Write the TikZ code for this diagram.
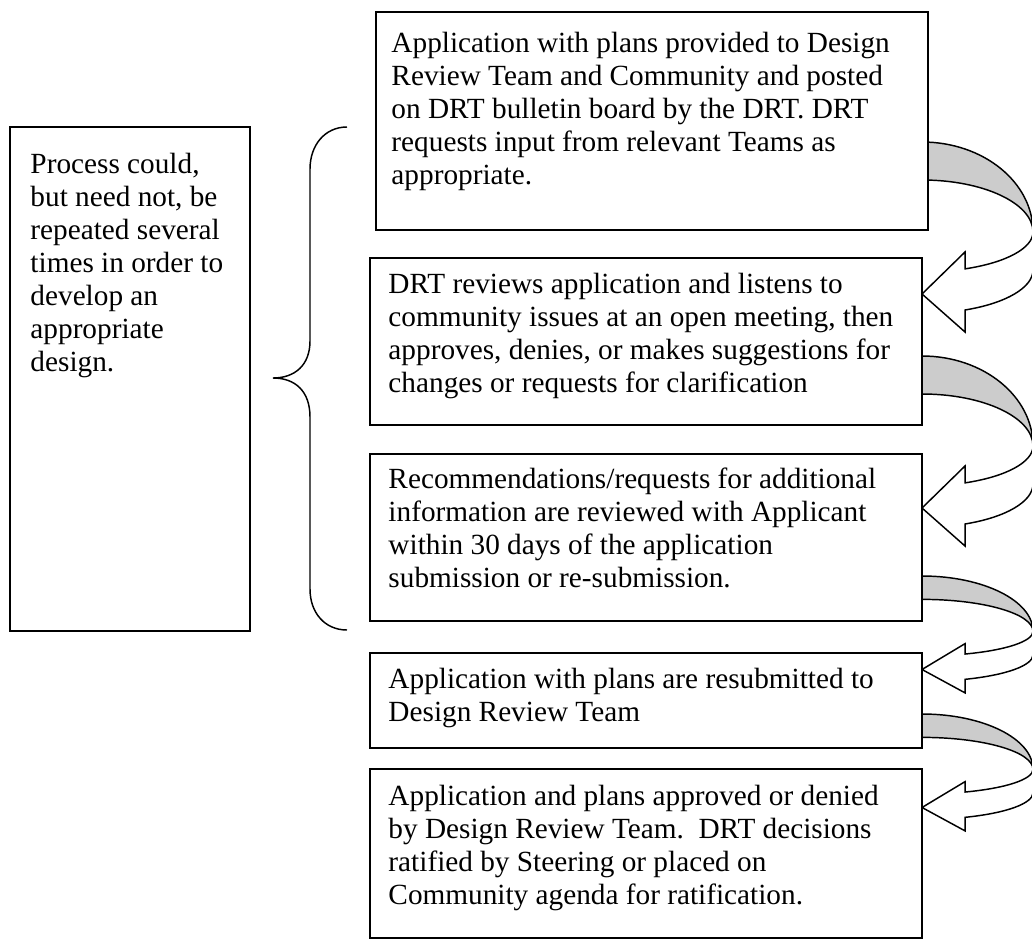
\documentclass[tikz,border=0pt]{standalone}
\usepackage{fontspec}
\setmainfont{Liberation Serif}
\usetikzlibrary{backgrounds}
\newdimen\px \px=0.41pt

\tikzset{
  stepbox/.style={draw,fill=white,line width=0.8pt,anchor=north west,inner sep=0pt,outer sep=0pt},
  steptext/.style={anchor=north west,inner sep=0pt,align=left,font=\fontsize{12pt}{13.5pt}\selectfont},
  curvearrow/.pic={
    % back of the ribbon
    \filldraw[fill=black!20,line width=0.6pt]
      (0,0) arc[start angle=-90,end angle=0,x radius=111,y radius=90]
      arc[start angle=0,end angle=-90,x radius=111,y radius=52] -- cycle;
    % front of the ribbon with the head
    \filldraw[fill=white,line width=0.6pt]
      (111,90) arc[start angle=0,end angle=67.2,x radius=111,y radius=40]
      -- (43,110) -- (0,152) -- (43,190) -- (43,168)
      arc[start angle=67.2,end angle=0,x radius=111,y radius=43.4] -- cycle;
  }
}

\begin{document}
\begin{tikzpicture}[x=0.41pt,y=-0.41pt]
  \useasboundingbox (0,0) rectangle (1032,942);

  \node[stepbox,minimum width=240\px,minimum height=504\px] (lbox) at (10,127) {};
  \node[stepbox,minimum width=552\px,minimum height=218\px] (b1) at (376,12) {};
  \node[stepbox,minimum width=552\px,minimum height=167\px] (b2) at (370,258) {};
  \node[stepbox,minimum width=552\px,minimum height=167\px] (b3) at (370,454) {};
  \node[stepbox,minimum width=552\px,minimum height=95\px] (b4) at (370,653) {};
  \node[stepbox,minimum width=552\px,minimum height=169\px] (b5) at (370,769) {};

  \node[steptext] (tl) at ([shift={(20,23)}]lbox.north west)
    {\strut Process could,\\ but need not, be\\ repeated several\\ times in order to\\ develop an\\ appropriate\\ design.};
  \node[steptext] (t1) at ([shift={(15,17)}]b1.north west)
    {\strut Application with plans provided to Design\\ Review Team and Community and posted\\ on DRT bulletin board by the DRT. DRT\\ requests input from relevant Teams as\\ appropriate.};
  \node[steptext] (t2) at ([shift={(18,12)}]b2.north west)
    {\strut DRT reviews application and listens to\\ community issues at an open meeting, then\\ approves, denies, or makes suggestions for\\ changes or requests for clarification};
  \node[steptext] (t3) at ([shift={(18,11)}]b3.north west)
    {\strut Recommendations/requests for additional\\ information are reviewed with Applicant\\ within 30 days of the application\\ submission or re-submission.};
  \node[steptext] (t4) at ([shift={(18,12)}]b4.north west)
    {\strut Application with plans are resubmitted to\\ Design Review Team};
  \node[steptext] (t5) at ([shift={(18,13)}]b5.north west)
    {\strut Application and plans approved or denied\\ by Design Review Team.\ \ DRT decisions\\ ratified by Steering or placed on\\ Community agenda for ratification.};

  % the brace
  \draw[line width=0.6pt] (347,127) .. controls (325,127) and (310,145) .. (310,169)
    -- (310,341) .. controls (310,365) and (295,378) .. (273,378)
    .. controls (295,378) and (310,391) .. (310,417)
    -- (310,589) .. controls (310,613) and (325,630) .. (347,630);

  \begin{scope}[on background layer]
    \pic at (b2.east |- 0,142) {curvearrow};
    \pic at (b3.east |- 0,356) {curvearrow};
    \pic[yscale=0.615] at (b4.east |- 0,576) {curvearrow};
    \pic[yscale=0.615] at (b5.east |- 0,714) {curvearrow};
  \end{scope}
\end{tikzpicture}
\end{document}
